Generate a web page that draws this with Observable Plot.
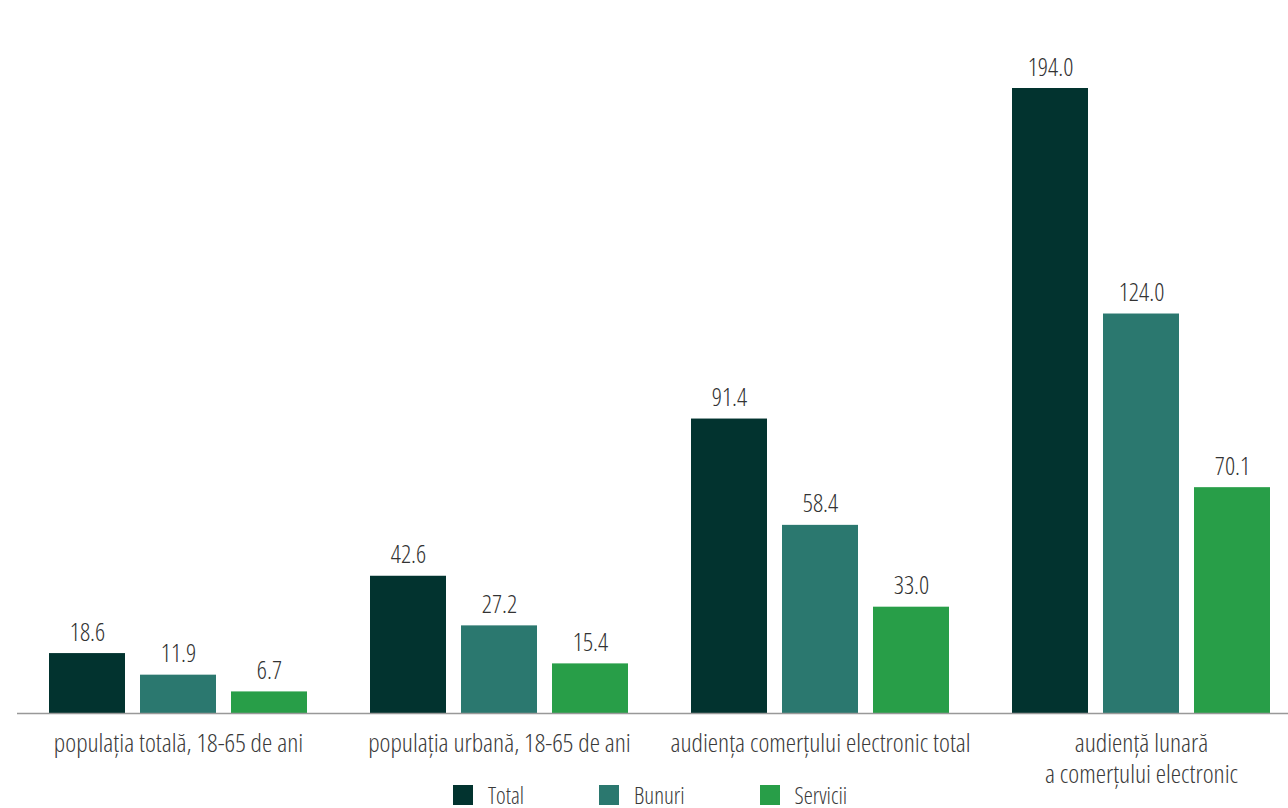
<!DOCTYPE html>
<html>
<head>
<meta charset="utf-8">
<script src="https://cdn.jsdelivr.net/npm/d3@7"></script>
<script src="https://cdn.jsdelivr.net/npm/@observablehq/plot@0.6"></script>
<style>
  html, body { margin: 0; padding: 0; background: #fff; }
  #chart { position: relative; width: 1288px; height: 808px; overflow: hidden;
    font-family: "Open Sans", sans-serif; font-stretch: 75%; font-weight: 350; }
  #chart svg text, #chart svg { font-stretch: 75%; font-weight: 350; }
  #legend { position: absolute; left: 453px; top: 778px; font-stretch: 75%; }
  .leg-swatch { margin-right: 75px !important; font-stretch: 75%; font-weight: 350; }
  .leg-swatch > svg { margin-right: 15px !important; }
</style>
</head>
<body>
<div id="chart"></div>
<script>
const categories = [
  "populația totală, 18-65 de ani",
  "populația urbană, 18-65 de ani",
  "audiența comerțului electronic total",
  "audiență lunară\na comerțului electronic"
];
const series = ["Total", "Bunuri", "Servicii"];
const totalValues = [18.6, 42.6, 91.4, 194.0];
const bunuriValues = [11.9, 27.2, 58.4, 124.0];
const serviciiValues = [6.7, 15.4, 33.0, 70.1];
const colors = ["#02332f", "#2b786f", "#289e48"];

const seriesValues = [totalValues, bunuriValues, serviciiValues];
const FONT = '"Open Sans", sans-serif';

const bandWidth = 258, barWidth = 76, barStep = 91;

const marks = [];
seriesValues.forEach((vals, i) => {
  const rows = categories.map((c, j) => ({category: c, value: vals[j], series: series[i]}));
  marks.push(Plot.barY(rows, {
    x: "category", y: "value", fill: "series",
    insetLeft: i * barStep,
    insetRight: bandWidth - barWidth - i * barStep
  }));
  marks.push(Plot.text(rows, {
    x: "category", y: "value", text: d => d.value.toFixed(1),
    dx: (i - 1) * barStep, dy: -13, lineAnchor: "bottom",
    fontSize: 25, fill: "#333"
  }));
});

const plot = Plot.plot({
  width: 1288,
  height: 808,
  marginLeft: 17,
  marginRight: 0,
  marginTop: 88,
  marginBottom: 95,
  style: {fontFamily: FONT, background: "transparent", fontStretch: "75%", fontWeight: 350},
  x: {domain: categories, range: [48, 1270], paddingInner: 0.197, paddingOuter: 0, label: null},
  y: {domain: [0, 194], range: [713, 88], axis: null},
  color: {type: "ordinal", domain: series, range: colors},
  marks: [
    ...marks,
    Plot.ruleY([0], {stroke: "#999", strokeWidth: 1.5}),
    Plot.axisX({tickSize: 0, tickPadding: 16, fontSize: 26, lineHeight: 1.2, fill: "#3a3a3a", label: null})
  ]
});

const legend = Plot.legend({
  color: {type: "ordinal", domain: series, range: colors},
  legend: "swatches",
  swatchSize: 20,
  className: "leg",
  style: {fontFamily: FONT, fontSize: "23px", color: "#3a3a3a", fontStretch: "75%", fontWeight: 350}
});

const chart = document.getElementById("chart");
chart.appendChild(plot);
const legWrap = document.createElement("div");
legWrap.id = "legend";
legWrap.appendChild(legend);
chart.appendChild(legWrap);
</script>
</body>
</html>
